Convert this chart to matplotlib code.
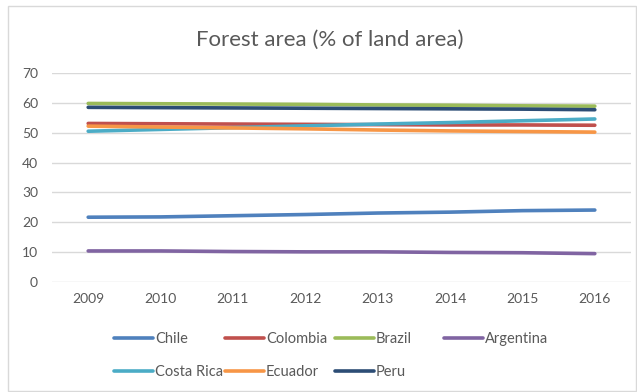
import matplotlib
matplotlib.use("Agg")
import matplotlib.pyplot as plt
import matplotlib.patches as patches

plt.rcParams['font.family'] = ['Lato', 'DejaVu Sans']

years = [2009, 2010, 2011, 2012, 2013, 2014, 2015, 2016]
countries = ["Chile", "Colombia", "Brazil", "Argentina", "Costa Rica", "Ecuador", "Peru"]
chile = [21.7, 21.8, 22.2, 22.6, 23.1, 23.4, 23.9, 24.1]
colombia = [53.1, 53.0, 52.9, 52.8, 52.7, 52.6, 52.6, 52.5]
brazil = [59.8, 59.7, 59.6, 59.5, 59.3, 59.2, 59.0, 58.9]
argentina = [10.4, 10.4, 10.2, 10.1, 10.1, 9.9, 9.8, 9.5]
costa_rica = [50.5, 51.1, 51.7, 52.3, 52.9, 53.4, 54.0, 54.6]
ecuador = [52.2, 51.9, 51.6, 51.3, 50.9, 50.6, 50.4, 50.2]
peru = [58.5, 58.4, 58.3, 58.2, 58.1, 58.0, 57.9, 57.7]
yticks = [0, 10, 20, 30, 40, 50, 60, 70]

series = [chile, colombia, brazil, argentina, costa_rica, ecuador, peru]
colors = ['#4F81BD', '#C0504D', '#9BBB59', '#8064A2', '#4BACC6', '#F79646', '#2C4D75']
text_color = '#595959'

fig = plt.figure(figsize=(6.37, 3.92), dpi=100)

# chart border
fig.patches.append(patches.Rectangle((8 / 637, 1 / 392), 628 / 637, 385 / 392,
                                     transform=fig.transFigure, fill=False,
                                     edgecolor='#D9D9D9', linewidth=1))

ax = fig.add_axes([52 / 637, 1 - 282 / 392, 579 / 637, 209 / 392])

lines = []
for name, vals, c in zip(countries, series, colors):
    ln, = ax.plot(years, vals, color=c, linewidth=2.6, solid_capstyle='round', label=name)
    lines.append(ln)

ax.set_xlim(2008.5, 2016.5)
ax.set_ylim(0, 70)
ax.set_yticks(yticks)
ax.set_xticks(years)
ax.grid(axis='y', color='#D9D9D9', linewidth=1)
ax.set_axisbelow(True)
for s in ax.spines.values():
    s.set_visible(False)
ax.tick_params(length=0, labelsize=10, labelcolor=text_color)
ax.tick_params(axis='y', pad=10)
ax.tick_params(axis='x', pad=8)

fig.text(0.518, 1 - 40 / 392, "Forest area (% of land area)", ha='center', va='center',
         fontsize=16, color=text_color)

# legend: four uniform columns, two rows
col_x = [114, 225, 335, 444]
for i, x in enumerate(col_x):
    idx = [j for j in (i, i + 4) if j < len(lines)]
    leg = fig.legend([lines[j] for j in idx], [countries[j] for j in idx],
                     loc='upper left', bbox_to_anchor=(x / 637, 1 - 332 / 392),
                     frameon=False, fontsize=10.5, labelcolor=text_color,
                     handlelength=2.7, handletextpad=0.1, borderaxespad=0,
                     borderpad=0, labelspacing=1.3)

fig.savefig("out.png", dpi=100)
